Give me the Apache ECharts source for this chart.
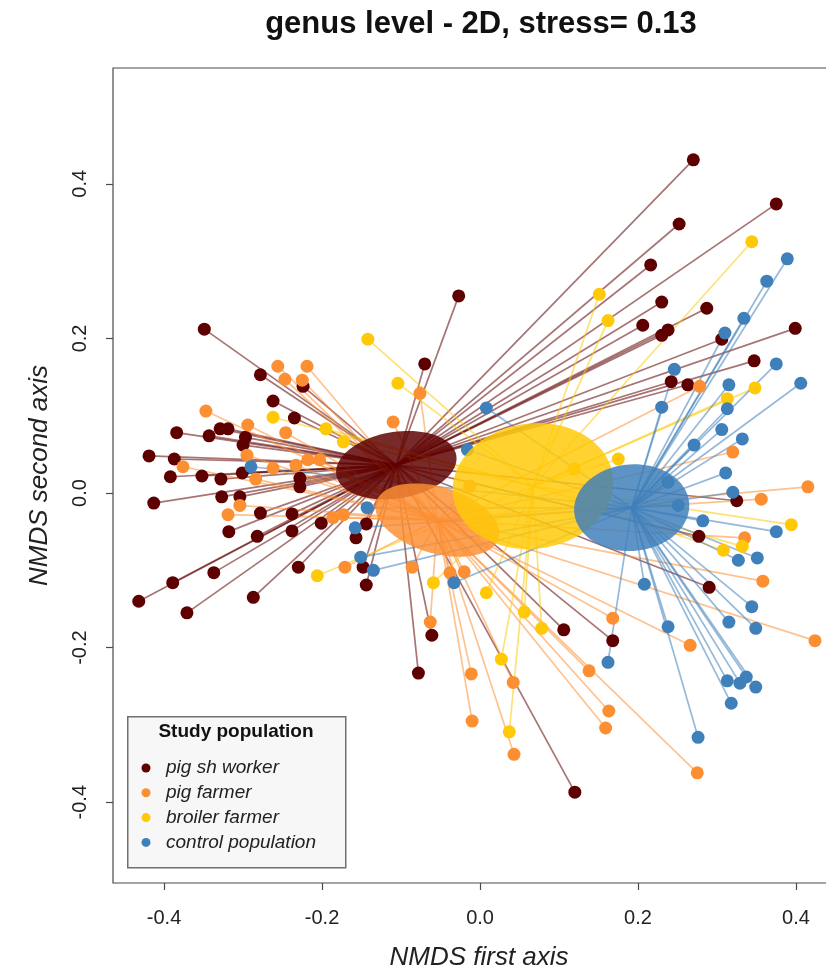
<!DOCTYPE html>
<html>
<head>
<meta charset="utf-8">
<script src="https://cdn.jsdelivr.net/npm/echarts@6/dist/echarts.min.js"></script>
<style>
  html, body { margin: 0; padding: 0; background: #ffffff; }
  #chart { width: 826px; height: 975px; }
</style>
</head>
<body>
<div id="chart"></div>
<script>
// Study groups, in drawing order
const groups = ['pig sh worker', 'pig farmer', 'broiler farmer', 'control population'];

// NMDS site scores per group (first axis, second axis)
const pigShWorkerX = [0.270, 0.375, 0.252, 0.216, 0.230, 0.287, 0.206, 0.238, 0.230, 0.306,
  0.399, 0.347, 0.242, 0.263, -0.027, -0.070, -0.349, -0.278, -0.262, -0.235,
  -0.224, -0.384, -0.329, -0.319, -0.343, -0.297, -0.300, -0.419, -0.387, -0.392,
  -0.352, -0.328, -0.301, -0.228, -0.228, -0.413, -0.327, -0.304, -0.278, -0.238,
  -0.201, -0.318, -0.282, -0.238, -0.144, -0.157, -0.230, -0.337, -0.389, -0.432,
  -0.287, -0.371, -0.148, -0.144, -0.061, -0.078, 0.106, 0.168, 0.120, 0.290,
  0.277, 0.325];
const pigShWorkerY = [0.431, 0.374, 0.348, 0.295, 0.247, 0.239, 0.217, 0.211, 0.204, 0.199,
  0.213, 0.171, 0.144, 0.140, 0.255, 0.167, 0.212, 0.153, 0.119, 0.097,
  0.138, 0.078, 0.083, 0.083, 0.074, 0.072, 0.062, 0.048, 0.044, 0.021,
  0.022, 0.018, 0.026, 0.019, 0.008, -0.013, -0.005, -0.005, -0.026, -0.027,
  -0.039, -0.050, -0.056, -0.049, -0.040, -0.058, -0.096, -0.103, -0.116, -0.140,
  -0.135, -0.155, -0.096, -0.119, -0.184, -0.233, -0.177, -0.191, -0.387, -0.122,
  -0.056, -0.010];

const pigFarmerX = [-0.256, -0.219, -0.247, -0.225, -0.347, -0.294, -0.246, -0.295, -0.376, -0.284,
  -0.262, -0.233, -0.218, -0.203, -0.304, -0.319, -0.186, -0.173, -0.171, -0.076,
  -0.110, -0.086, -0.038, -0.020, -0.063, -0.011, -0.010, 0.042, 0.043, 0.138,
  0.168, 0.163, 0.159, 0.266, 0.275, 0.424, 0.358, 0.335, 0.356, 0.415,
  0.320, 0.278, -0.013];
const pigFarmerY = [0.164, 0.164, 0.147, 0.146, 0.106, 0.088, 0.078, 0.049, 0.034, 0.018,
  0.032, 0.036, 0.043, 0.043, -0.016, -0.028, -0.032, -0.028, -0.096, 0.129,
  0.092, -0.096, -0.103, -0.102, -0.167, -0.234, -0.295, -0.245, -0.338, -0.230,
  -0.162, -0.282, -0.304, -0.197, -0.362, -0.191, -0.114, -0.058, -0.008, 0.008,
  0.053, 0.138, 0.009];

const broilerFarmerX = [0.344, 0.151, 0.162, -0.142, -0.104, -0.262, -0.195, -0.173, -0.206, -0.059,
  0.008, 0.056, 0.078, 0.027, 0.037, 0.348, 0.313, 0.175, 0.394, 0.332,
  0.308, 0.119];
const broilerFarmerY = [0.325, 0.257, 0.223, 0.199, 0.142, 0.098, 0.083, 0.066, -0.107, -0.116,
  -0.129, -0.154, -0.175, -0.215, -0.309, 0.136, 0.122, 0.044, -0.041, -0.069,
  -0.074, 0.031];

const controlX = [0.389, 0.363, 0.334, 0.310, 0.375, 0.246, 0.315, 0.406, 0.230, 0.313,
  0.306, 0.332, 0.271, 0.311, 0.320, 0.282, 0.375, 0.327, 0.351, 0.208,
  0.344, 0.315, 0.349, 0.238, 0.162, 0.313, 0.329, 0.337, 0.349, 0.318,
  0.276, 0.008, -0.016, -0.290, -0.143, -0.158, -0.151, -0.135, -0.033, 0.238,
  0.251];
const controlY = [0.303, 0.274, 0.226, 0.207, 0.167, 0.160, 0.140, 0.142, 0.111, 0.109,
  0.082, 0.070, 0.062, 0.026, 0.001, -0.036, -0.050, -0.087, -0.084, -0.118,
  -0.147, -0.167, -0.175, -0.173, -0.219, -0.243, -0.246, -0.238, -0.251, -0.272,
  -0.316, 0.110, 0.056, 0.034, -0.019, -0.045, -0.083, -0.100, -0.116, 0.014,
  -0.016];

// Group centroids and dispersion ellipses (semi-axes in axis units, rotation in degrees)
const centroidX = [-0.106, -0.054, 0.067, 0.192];
const centroidY = [0.036, -0.035, 0.009, -0.019];
const ellipseA = [0.077, 0.081, 0.102, 0.073];
const ellipseB = [0.043, 0.043, 0.081, 0.056];
const ellipseAngle = [9.5, -17, 8, 5];

// Axis tick values
const xTicks = [-0.4, -0.2, 0.0, 0.2, 0.4];
const yTicks = [-0.4, -0.2, 0.0, 0.2, 0.4];

const colors = ['#5e0000', '#fd8f33', '#ffc908', '#3f7fba'];
const fontFamily = '"Liberation Sans", Arial, Helvetica, sans-serif';

const pointsX = [pigShWorkerX, pigFarmerX, broilerFarmerX, controlX];
const pointsY = [pigShWorkerY, pigFarmerY, broilerFarmerY, controlY];

// Spider lines from each group centroid to its members
const spiderSeries = groups.map((name, i) => ({
  type: 'lines',
  coordinateSystem: 'cartesian2d',
  z: 1,
  silent: true,
  animation: false,
  lineStyle: { color: colors[i], width: 1.7, opacity: 0.55 },
  data: pointsX[i].map((x, j) => ({
    coords: [[centroidX[i], centroidY[i]], [x, pointsY[i][j]]]
  }))
}));

const pointSeries = groups.map((name, i) => ({
  type: 'scatter',
  name: name,
  z: 2,
  silent: true,
  animation: false,
  symbol: 'circle',
  symbolSize: 13,
  itemStyle: { color: colors[i], opacity: 1 },
  data: pointsX[i].map((x, j) => [x, pointsY[i][j]])
}));

// Filled dispersion ellipses drawn over the spiders
const ellipseSeries = {
  type: 'custom',
  z: 3,
  silent: true,
  animation: false,
  encode: { x: 0, y: 1 },
  data: groups.map((g, i) => [centroidX[i], centroidY[i], ellipseA[i], ellipseB[i], ellipseAngle[i], i]),
  renderItem: function (params, api) {
    const cx = api.value(0), cy = api.value(1);
    const a = api.value(2), b = api.value(3);
    const th = api.value(4) * Math.PI / 180;
    const gi = api.value(5);
    const pts = [];
    const n = 90;
    for (let k = 0; k < n; k++) {
      const t = 2 * Math.PI * k / n;
      const dx = a * Math.cos(t), dy = b * Math.sin(t);
      pts.push(api.coord([
        cx + dx * Math.cos(th) - dy * Math.sin(th),
        cy + dx * Math.sin(th) + dy * Math.cos(th)
      ]));
    }
    return {
      type: 'polygon',
      shape: { points: pts },
      style: { fill: colors[gi], opacity: 0.84 }
    };
  }
};

// Legend box
const legendGraphics = [
  {
    type: 'rect', left: 127, top: 716, z: 100,
    shape: { width: 218, height: 151 },
    style: { fill: '#f7f7f7', stroke: '#707070', lineWidth: 1.5 }
  },
  {
    type: 'text', z: 101, x: 236, y: 732,
    style: {
      text: 'Study population', fill: '#111', font: 'bold 19px ' + fontFamily,
      textAlign: 'center', textVerticalAlign: 'middle'
    }
  }
];
groups.forEach((name, i) => {
  const yRow = 768 + i * 24.8;
  legendGraphics.push({
    type: 'circle', z: 101, shape: { cx: 146, cy: yRow, r: 4.5 },
    style: { fill: colors[i] }
  });
  legendGraphics.push({
    type: 'text', z: 101, x: 166, y: yRow,
    style: {
      text: name, fill: '#222', font: 'italic 19px ' + fontFamily,
      textAlign: 'left', textVerticalAlign: 'middle'
    }
  });
});

const chart = echarts.init(document.getElementById('chart'), null, { renderer: 'canvas' });
chart.setOption({
  animation: false,
  backgroundColor: '#ffffff',
  title: {
    text: 'genus level - 2D, stress= 0.13',
    left: 476, top: 4, textAlign: 'center',
    textStyle: { fontFamily: fontFamily, fontWeight: 'bold', fontSize: 31, color: '#111' }
  },
  // plot box runs on past the right edge of the page
  grid: {
    left: 113, top: 68, width: 732, height: 815,
    outerBoundsMode: 'none',
    containLabel: false,
    show: true, borderColor: '#4a4a4a', borderWidth: 1.2, backgroundColor: 'transparent'
  },
  xAxis: {
    type: 'value',
    min: -0.4646, max: 0.462,
    name: 'NMDS first axis',
    nameLocation: 'middle',
    nameGap: 62,
    nameTextStyle: { fontFamily: fontFamily, fontStyle: 'italic', fontSize: 26, color: '#222' },
    axisLine: { show: false, onZero: false },
    axisTick: { show: true, inside: false, length: 7, customValues: xTicks, lineStyle: { color: '#4a4a4a', width: 1.2 } },
    axisLabel: {
      customValues: xTicks, margin: 25,
      formatter: v => v.toFixed(1),
      fontFamily: fontFamily, fontSize: 20, color: '#222'
    },
    splitLine: { show: false }
  },
  yAxis: {
    type: 'value',
    min: -0.5045, max: 0.5498,
    name: 'NMDS second axis',
    nameLocation: 'middle',
    nameGap: 60,
    nameRotate: 90,
    nameTextStyle: { fontFamily: fontFamily, fontStyle: 'italic', fontSize: 26, color: '#222' },
    axisLine: { show: false, onZero: false },
    axisTick: { show: true, inside: false, length: 7, customValues: yTicks, lineStyle: { color: '#4a4a4a', width: 1.2 } },
    axisLabel: {
      customValues: yTicks, margin: 23, rotate: 90,
      formatter: v => v.toFixed(1),
      fontFamily: fontFamily, fontSize: 20, color: '#222'
    },
    splitLine: { show: false }
  },
  series: [...spiderSeries, ...pointSeries, ellipseSeries],
  graphic: legendGraphics
});
</script>
</body>
</html>
